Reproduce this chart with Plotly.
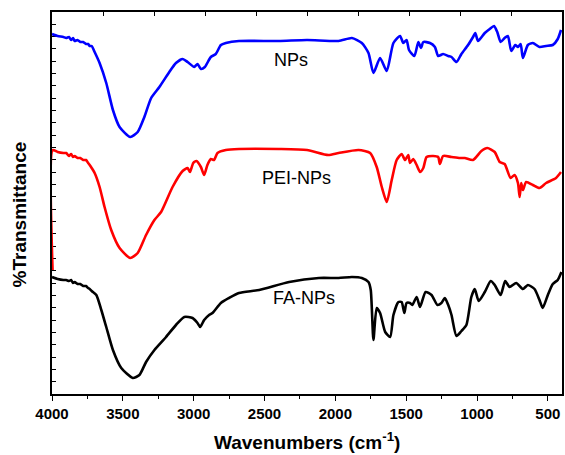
import plotly.graph_objects as go

# FTIR spectra, wavenumber (cm-1) and stacked transmittance (arbitrary units)
np_wn = [4000, 3960, 3920, 3900, 3880, 3865, 3852, 3840, 3820, 3800, 3780, 3760, 3745, 3734, 3720,
         3699, 3664, 3617, 3570, 3523, 3448, 3395, 3348, 3300, 3242, 3172, 3125, 3078, 3043,
         2996, 2973, 2949, 2921, 2879, 2844, 2808, 2773, 2680, 2400, 2200, 1977, 1883, 1813,
         1766, 1731, 1684, 1637, 1590, 1543, 1520, 1497, 1480, 1442, 1414, 1395, 1379, 1332,
         1297, 1274, 1239, 1203, 1180, 1145, 1110, 1063, 1028, 1012, 993, 945, 910, 880, 857,
         833, 805, 782, 758, 730, 711, 692, 676, 641, 606, 559, 512, 465, 430, 407]
np_t = [360, 358, 357, 356, 357, 354, 356, 353, 354, 352, 352, 350, 350, 348, 348,
        342, 331, 311, 284, 267, 257, 262, 277, 296, 307, 322, 331, 335, 332,
        327, 330, 325, 327, 337, 340, 349, 351, 353, 353, 354, 353, 356, 351,
        341, 321, 336, 323, 351, 358, 351, 354, 344, 338, 352, 346, 352, 351,
        347, 338, 340, 338, 337, 332, 340, 349, 357, 361, 353, 361, 365, 368, 362,
        352, 356, 358, 343, 349, 347, 350, 336, 349, 351, 347, 348, 349, 355, 364]

pei_wn = [3996, 3995, 3960, 3920, 3900, 3880, 3865, 3852, 3840, 3820, 3800, 3780, 3760, 3745, 3734,
          3720, 3699, 3664, 3629, 3582, 3523, 3448, 3395, 3336, 3277, 3230, 3149, 3078, 3043,
          3026, 3003, 2980, 2949, 2926, 2903, 2879, 2856, 2832, 2773, 2680, 2400, 2200, 2050,
          1977, 1836, 1754, 1708, 1672, 1637, 1602, 1567, 1532, 1508, 1485, 1473, 1450, 1426,
          1402, 1379, 1356, 1309, 1274, 1262, 1239, 1180, 1121, 1086, 1028, 969, 927, 875,
          840, 805, 763, 735, 711, 699, 688, 676, 653, 606, 559, 512, 442, 407]
pei_t = [124, 244, 242, 241, 241, 238, 240, 237, 238, 236, 236, 234, 234, 231, 229,
         226, 221, 207, 187, 164, 146, 136, 141, 159, 174, 182, 207, 223, 226,
         222, 231, 233, 227, 219, 229, 235, 234, 241, 244, 245, 245, 244, 239,
         241, 244, 241, 227, 207, 192, 214, 234, 240, 234, 239, 231, 235, 229,
         222, 226, 237, 238, 237, 230, 238, 237, 236, 236, 234, 243, 246, 242,
         232, 230, 216, 219, 211, 197, 211, 204, 212, 209, 206, 211, 216, 222]

fa_wn = [4000, 3960, 3920, 3900, 3880, 3865, 3852, 3840, 3820, 3800, 3780, 3760, 3745, 3734, 3720,
         3687, 3652, 3617, 3570, 3511, 3430, 3383, 3336, 3277, 3195, 3125, 3066, 3008, 2973,
         2954, 2926, 2891, 2867, 2808, 2750, 2680, 2537, 2326, 2116, 1977, 1883, 1813, 1766,
         1750, 1731, 1708, 1684, 1648, 1613, 1590, 1555, 1532, 1513, 1497, 1473, 1457, 1426,
         1402, 1363, 1321, 1279, 1251, 1227, 1203, 1180, 1145, 1110, 1075, 1040, 1016, 988,
         945, 903, 875, 833, 801, 770, 723, 676, 641, 594, 559, 536, 500, 465, 430, 404]
fa_t = [117, 115, 114, 114, 113, 114, 111, 112, 110, 110, 108, 108, 106, 105, 103,
        99, 84, 67, 44, 26, 16, 19, 32, 44, 57, 69, 77, 76, 71,
        67, 74, 79, 81, 91, 96, 101, 104, 112, 116, 116, 117, 116, 112,
        104, 54, 86, 81, 62, 57, 79, 92, 92, 81, 91, 91, 89, 97,
        87, 102, 99, 89, 91, 96, 89, 79, 58, 63, 69, 97, 105, 93,
        102, 113, 109, 99, 113, 107, 111, 105, 109, 105, 94, 86, 99, 110, 114, 122]

labels = ["NPs", "PEI-NPs", "FA-NPs"]
label_wn = [2311, 2276, 2223]
label_t = [334, 216, 96]
x_ticks = [4000, 3500, 3000, 2500, 2000, 1500, 1000, 500]

FONT = "Arial, Liberation Sans, sans-serif"

fig = go.Figure()
for wn, t, color, name in [(np_wn, np_t, "#0000FF", labels[0]),
                           (pei_wn, pei_t, "#FF0000", labels[1]),
                           (fa_wn, fa_t, "#000000", labels[2])]:
    fig.add_trace(go.Scatter(x=wn, y=t, mode="lines", name=name,
                             line=dict(color=color, width=2.6, shape="spline", smoothing=0.6),
                             showlegend=False))

# invisible trace so the top frame axis is drawn
fig.add_trace(go.Scatter(x=[4000], y=[0], xaxis="x2", mode="markers",
                         marker=dict(opacity=0), showlegend=False, hoverinfo="skip"))

for name, x, y in zip(labels, label_wn, label_t):
    fig.add_annotation(x=x, y=y, text=name, showarrow=False,
                       font=dict(family=FONT, size=18, color="#000000"))

fig.add_annotation(xref="paper", yref="paper", x=0.5, y=-0.123, yanchor="middle",
                   text="Wavenumbers (cm<sup>-1</sup>)", showarrow=False,
                   font=dict(family=FONT, size=19, color="#000000", weight="bold"))
fig.add_annotation(xref="paper", yref="paper", x=-0.0635, y=0.469, xanchor="center",
                   textangle=-90, text="%Transmittance", showarrow=False,
                   font=dict(family=FONT, size=19, color="#000000", weight="bold"))

fig.update_layout(
    width=565, height=455,
    margin=dict(l=52, r=1, t=12, b=61),
    plot_bgcolor="white", paper_bgcolor="white",
    xaxis=dict(range=[4000, 400], tickvals=x_ticks, ticks="outside", ticklen=5,
               tickwidth=1.3, tickcolor="#000000",
               minor=dict(dtick=250, tick0=0, ticks="outside", ticklen=3, tickcolor="#000000"),
               showline=True, linecolor="#000000", linewidth=1.5, mirror=False,
               showgrid=False, zeroline=False, layer="below traces",
               tickfont=dict(family=FONT, size=15, color="#000000", weight="bold")),
    xaxis2=dict(range=[4000, 400], overlaying="x", side="top", tick0=400, dtick=360,
                ticks="inside", ticklen=4, tickcolor="#000000", showticklabels=False,
                showline=True, linecolor="#000000", linewidth=1.5, showgrid=False,
                zeroline=False),
    yaxis=dict(range=[0, 382], tick0=0, dtick=382 / 31, ticks="inside", ticklen=4,
               tickcolor="#000000", showticklabels=False, showline=True,
               linecolor="#000000", linewidth=1.5, mirror=True, showgrid=False,
               zeroline=False, layer="below traces"),
)

fig.write_html("out.html")
